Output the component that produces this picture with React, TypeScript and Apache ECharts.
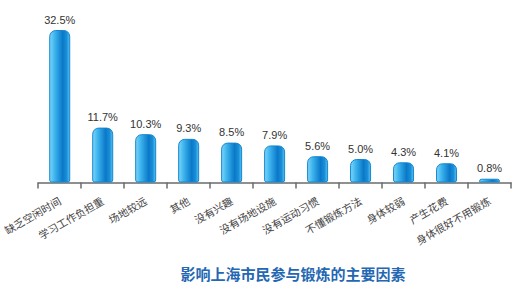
import React, { useEffect, useRef } from "react";
import * as echarts from "echarts";

const categories = [
  "缺乏空闲时间",
  "学习工作负担重",
  "场地较远",
  "其他",
  "没有兴趣",
  "没有场地设施",
  "没有运动习惯",
  "不懂锻炼方法",
  "身体较弱",
  "产生花费",
  "身体很好不用锻炼",
];
const values = [32.5, 11.7, 10.3, 9.3, 8.5, 7.9, 5.6, 5.0, 4.3, 4.1, 0.8];
const title = "影响上海市民参与锻炼的主要因素";

export default function App() {
  const ref = useRef<HTMLDivElement>(null);
  useEffect(() => {
    if (!ref.current) return;
    const chart = echarts.init(ref.current, null, { renderer: "svg" });
    const font = "'Liberation Sans', Arial, sans-serif";
    chart.setOption({
      animation: false,
      title: {
        text: title,
        left: 288,
        textAlign: "center",
        top: 261,
        textStyle: {
          fontSize: 15,
          fontWeight: "bold",
          color: "#2467b2",
          fontFamily: "'Noto Sans CJK SC', sans-serif",
        },
      },
      grid: { left: 37, right: 19, top: 30, bottom: 107.5 },
      xAxis: {
        type: "category",
        data: categories,
        axisLine: { show: true, lineStyle: { color: "#6b6b6b", width: 1.5 } },
        axisTick: { show: true, length: 6, lineStyle: { color: "#6b6b6b", width: 1.5 } },
        axisLabel: {
          rotate: 30,
          interval: 0,
          fontSize: 10.5,
          margin: 17,
          color: "#444",
          fontFamily: "'Noto Sans CJK SC', sans-serif",
        },
      },
      yAxis: {
        type: "value",
        min: 0,
        max: "dataMax",
        show: false,
        splitLine: { show: false },
      },
      series: [
        {
          type: "bar",
          data: values,
          barWidth: 21,
          itemStyle: {
            borderRadius: [6, 6, 2, 2],
            borderColor: "#1487d0",
            borderWidth: 1,
            color: new echarts.graphic.LinearGradient(0, 0, 1, 0, [
              { offset: 0, color: "#7fd6f7" },
              { offset: 0.25, color: "#3db4ee" },
              { offset: 0.65, color: "#0a78c8" },
              { offset: 0.85, color: "#1a8fd8" },
              { offset: 1, color: "#5cc2f0" },
            ]),
          },
          label: {
            show: true,
            position: "top",
            distance: 5,
            formatter: (p: any) => p.value.toFixed(1) + "%",
            fontSize: 11,
            color: "#333",
            fontFamily: font,
          },
        },
      ],
    });
    return () => chart.dispose();
  }, []);
  return <div ref={ref} style={{ width: 530, height: 290, position: "absolute", left: 0, top: 0 }} />;
}
